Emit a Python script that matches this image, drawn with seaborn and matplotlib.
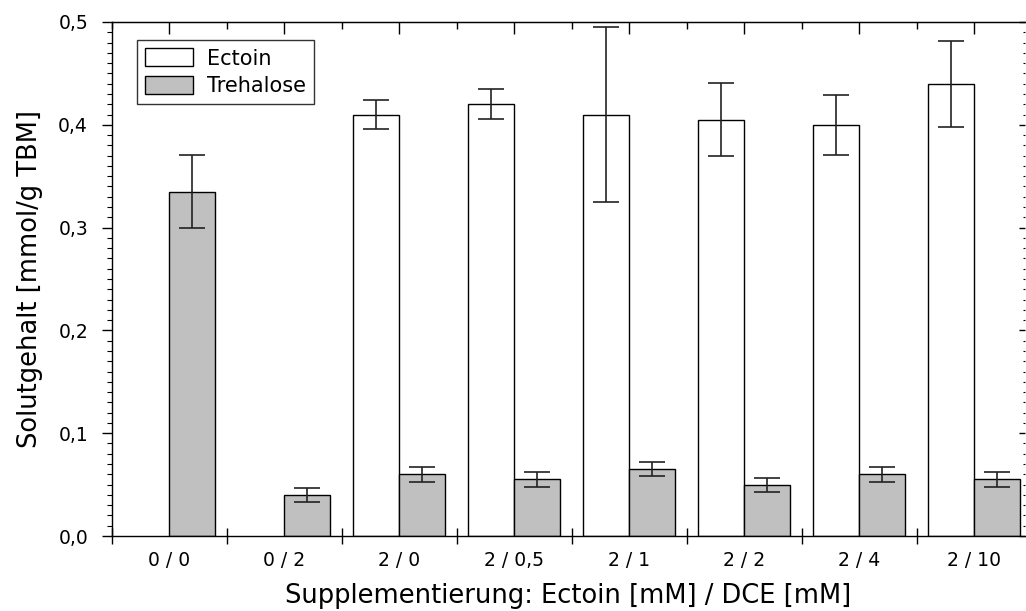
import seaborn as sns
import pandas as pd
import numpy as np
import matplotlib.pyplot as plt
from matplotlib.ticker import FixedLocator, FixedFormatter, NullFormatter, MultipleLocator, FuncFormatter

conditions = ["0 / 0", "0 / 2", "2 / 0", "2 / 0,5", "2 / 1", "2 / 2", "2 / 4", "2 / 10"]
ectoin = [np.nan, np.nan, 0.41, 0.42, 0.41, 0.405, 0.40, 0.44]
ectoin_err = [np.nan, np.nan, 0.014, 0.0145, 0.085, 0.0355, 0.029, 0.042]
trehalose = [0.335, 0.04, 0.06, 0.055, 0.065, 0.05, 0.06, 0.055]
trehalose_err = [0.0355, 0.007, 0.007, 0.007, 0.007, 0.0068, 0.007, 0.007]

df = pd.DataFrame({
    "cond": conditions * 2,
    "solute": ["Ectoin"] * 8 + ["Trehalose"] * 8,
    "val": ectoin + trehalose,
})

sns.set_style("ticks")
plt.rcParams['font.family'] = ['DejaVu Sans']
plt.rcParams.update({"text.color": "black", "axes.labelcolor": "black",
                     "xtick.color": "black", "ytick.color": "black"})

fig = plt.figure(figsize=(10.26, 6.11), dpi=100)
ax = fig.add_axes([112 / 1026, 1 - 536 / 611, 913 / 1026, 514 / 611])

sns.barplot(data=df, x="cond", y="val", hue="solute", order=conditions,
            hue_order=["Ectoin", "Trehalose"],
            palette={"Ectoin": "white", "Trehalose": "#c0c0c0"},
            edgecolor="black", linewidth=1.0, width=0.8, errorbar=None, ax=ax)

# error bars, dodged like the bars
idx = np.arange(len(conditions))
ax.errorbar(idx - 0.2, ectoin, yerr=ectoin_err, fmt="none", ecolor="#222222",
            elinewidth=1.2, capsize=9.7, capthick=1.2)
ax.errorbar(idx + 0.2, trehalose, yerr=trehalose_err, fmt="none", ecolor="#222222",
            elinewidth=1.2, capsize=9.7, capthick=1.2)

ax.set_xlim(-0.5, 7.44)
ax.set_ylim(0, 0.5)

# bottom axis: ticks between groups, labels at group centres
ax.xaxis.set_major_locator(FixedLocator(np.arange(-0.5, 8, 1)))
ax.xaxis.set_major_formatter(NullFormatter())
ax.xaxis.set_minor_locator(FixedLocator(idx))
ax.xaxis.set_minor_formatter(FixedFormatter(conditions))
ax.tick_params(axis="x", which="major", direction="inout", length=12, width=1)
ax.tick_params(axis="x", which="minor", length=0, labelsize=13.5, pad=11)

ax.yaxis.set_major_locator(MultipleLocator(0.1))
ax.yaxis.set_minor_locator(MultipleLocator(0.01))
ax.yaxis.set_major_formatter(FuncFormatter(lambda v, p: f"{v:.1f}".replace(".", ",")))
ax.tick_params(axis="y", which="major", direction="out", length=7.2, width=1, labelsize=13.5, pad=10)
ax.tick_params(axis="y", which="minor", direction="out", length=3.6, width=0.8)

top = ax.secondary_xaxis("top")
top.xaxis.set_major_locator(FixedLocator(idx))
top.xaxis.set_minor_locator(FixedLocator(np.arange(-0.5, 8, 1)))
top.tick_params(which="major", direction="in", length=8.6, width=1, labeltop=False)
top.tick_params(which="minor", direction="in", length=5, width=1)

right = ax.secondary_yaxis("right")
right.yaxis.set_major_locator(MultipleLocator(0.1))
right.yaxis.set_minor_locator(MultipleLocator(0.01))
right.tick_params(which="major", direction="in", length=4.3, width=1, labelright=False)
right.tick_params(which="minor", direction="in", length=1.2, width=0.8)
right.spines["right"].set_visible(False)
ax.spines["right"].set_visible(False)

for s in ["left", "bottom", "top"]:
    ax.spines[s].set_color("black")
    ax.spines[s].set_linewidth(1)

ax.set_xlabel("Supplementierung: Ectoin [mM] / DCE [mM]", fontsize=18.5, labelpad=9)
ax.set_ylabel("Solutgehalt [mmol/g TBM]", fontsize=18.5, labelpad=11)

handles, labels = ax.get_legend_handles_labels()
leg = ax.legend(handles, labels, loc="upper left", bbox_to_anchor=(0.0275, 0.965),
                fontsize=15, frameon=True, fancybox=False, edgecolor="black",
                handlelength=2.26, handleheight=0.96, borderpad=0.4, labelspacing=0.34,
                handletextpad=0.7, borderaxespad=0)
leg.get_frame().set_linewidth(1)

fig.savefig("out.png", dpi=100)
